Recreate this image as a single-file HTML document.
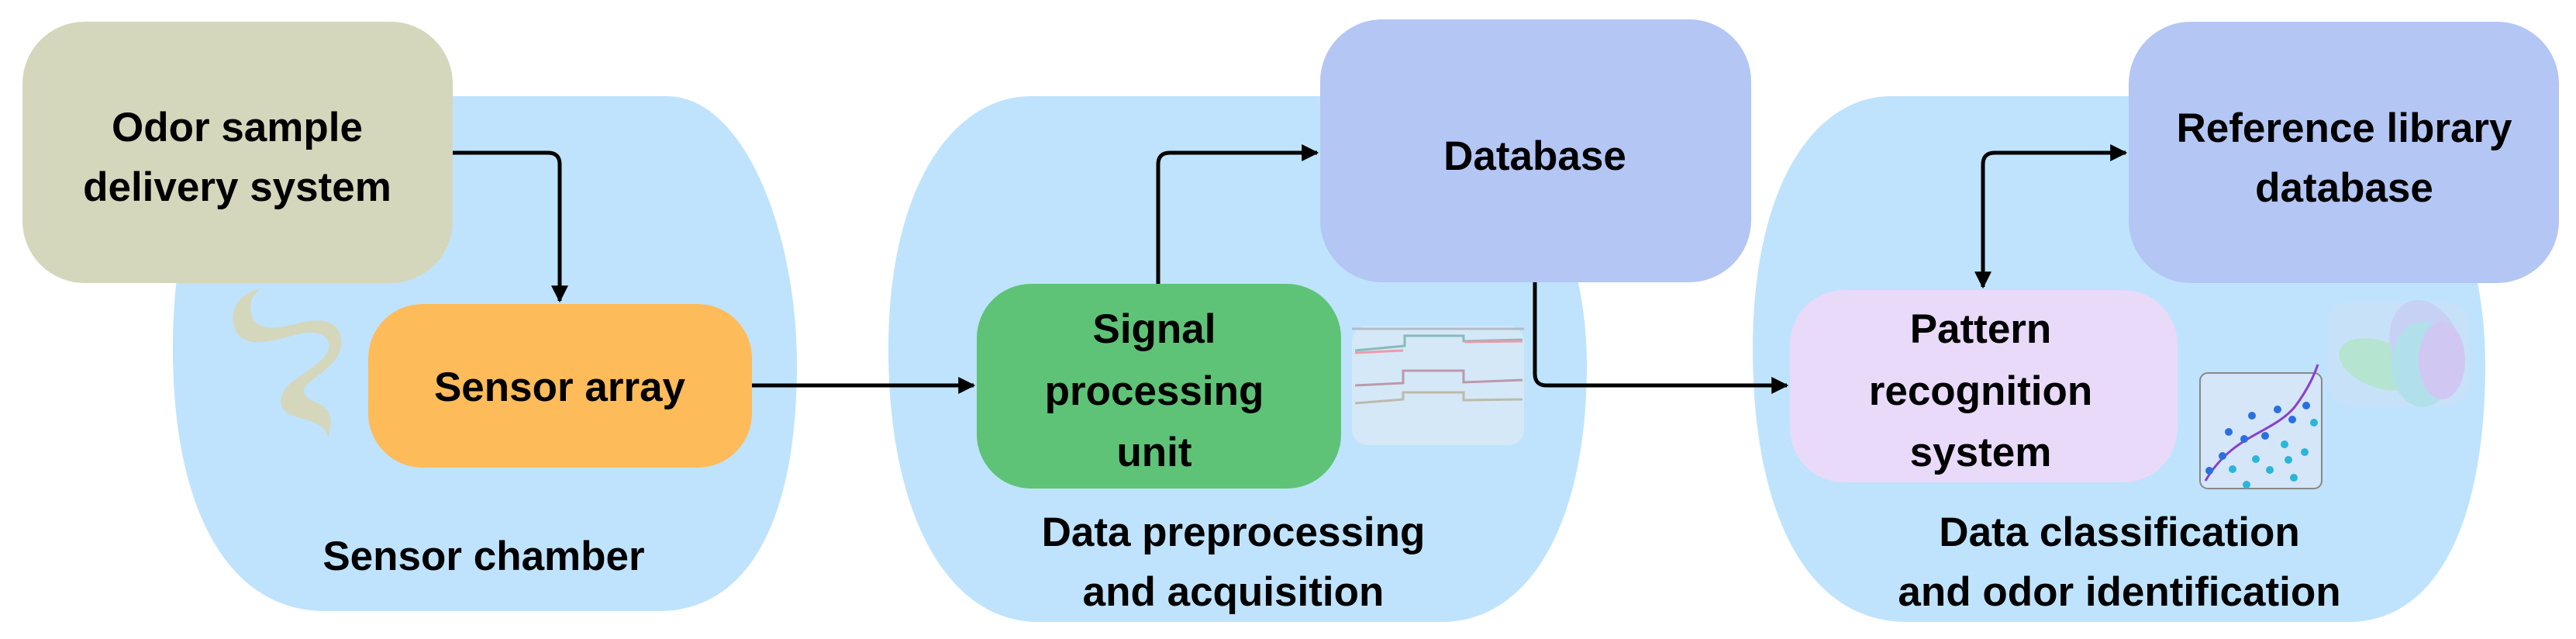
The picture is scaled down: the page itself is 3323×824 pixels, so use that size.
<!DOCTYPE html>
<html><head><meta charset="utf-8"><style>
html,body{margin:0;padding:0;background:#fff;}
svg{display:block;}
text{font-family:"Liberation Sans",sans-serif;font-weight:bold;font-size:53px;fill:#000;text-anchor:middle;}
</style></head><body>
<svg width="3323" height="824" viewBox="0 0 3323 824" xmlns="http://www.w3.org/2000/svg">
<defs>
<marker id="a" viewBox="0 0 10 10" refX="9" refY="5" markerWidth="22" markerHeight="22" markerUnits="userSpaceOnUse" orient="auto-start-reverse"><path d="M0,0 L10,5 L0,10 z" fill="#000"/></marker>
</defs>
<!-- chambers -->
<path d="M223,450 C223,230 300,124 420,124 L860,124 C960,124 1028,300 1028,470 C1028,680 960,788 850,788 L420,788 C290,788 223,650 223,450 Z" fill="#bfe3fc"/>
<path d="M1146,450 C1146,240 1230,124 1330,124 L1830,124 C1960,124 2047,300 2047,470 C2047,680 1970,802 1860,802 L1340,802 C1220,802 1146,660 1146,450 Z" fill="#bfe3fc"/>
<path d="M2261,450 C2261,240 2340,124 2440,124 L2980,124 C3130,124 3206,300 3206,470 C3206,680 3140,802 3030,802 L2460,802 C2330,802 2261,660 2261,450 Z" fill="#bfe3fc"/>
<!-- boxes -->
<rect x="29" y="28" width="555" height="337" rx="80" fill="#d4d7bc"/>
<rect x="475" y="392" width="495" height="211" rx="70" fill="#fdbb5a"/>
<rect x="1260" y="366" width="470" height="264" rx="70" fill="#5ec377"/>
<rect x="1703" y="25" width="556" height="339" rx="80" fill="#b4c6f4"/>
<rect x="2746" y="28" width="555" height="337" rx="80" fill="#b4c6f4"/>
<rect x="2309" y="374" width="500" height="248" rx="70" fill="#e8daf8"/>
<!-- smoke -->
<path d="M337,372 C305,378 293,405 305,428 C318,450 350,440 380,432 C400,426 420,428 424,442 C428,460 400,475 380,490 C360,505 355,525 375,535 C395,542 420,545 424,565 C428,545 430,528 410,520 C392,512 385,505 400,492 C420,478 445,460 440,435 C435,410 405,410 380,418 C355,425 330,425 325,408 C320,392 325,380 337,372 Z" fill="#d4d7bc"/>
<!-- chart -->
<rect x="1744" y="420" width="222" height="154" rx="20" fill="#dbe9f5" opacity="0.8"/>
<line x1="1744" y1="424" x2="1966" y2="424" stroke="#b0bcc8" stroke-width="3"/>
<path d="M1748,452 L1812,446 L1812,433 L1888,433 L1888,440 L1964,438" stroke="#8bb" stroke-width="3" fill="none"/>
<path d="M1748,455 L1810,452 M1890,441 L1964,440" stroke="#e9a" stroke-width="3" fill="none"/>
<path d="M1748,497 L1810,494 L1810,478 L1888,478 L1888,493 L1964,490" stroke="#b9a" stroke-width="3" fill="none"/>
<path d="M1748,520 L1810,515 L1810,506 L1888,506 L1888,516 L1964,515" stroke="#bba" stroke-width="3" fill="none"/>
<!-- scatter -->
<rect x="2838" y="481" width="157" height="149" rx="10" fill="#d4e6f7" stroke="#888" stroke-width="2"/>
<path d="M2845,620 C2880,560 2930,560 2960,525 C2975,505 2985,485 2990,470" stroke="#8a3fd0" stroke-width="3" fill="none"/>
<g fill="#2a6fe0"><circle cx="2905" cy="536" r="5"/><circle cx="2938" cy="528" r="5"/><circle cx="2957" cy="541" r="5"/><circle cx="2875" cy="557" r="5"/><circle cx="2895" cy="566" r="5"/><circle cx="2922" cy="562" r="5"/><circle cx="2867" cy="588" r="5"/><circle cx="2850" cy="607" r="5"/><circle cx="2975" cy="523" r="5"/></g>
<g fill="#2bb5d8"><circle cx="2985" cy="545" r="5"/><circle cx="2947" cy="573" r="5"/><circle cx="2973" cy="583" r="5"/><circle cx="2910" cy="592" r="5"/><circle cx="2880" cy="605" r="5"/><circle cx="2928" cy="606" r="5"/><circle cx="2952" cy="593" r="5"/><circle cx="2959" cy="616" r="5"/><circle cx="2898" cy="625" r="5"/></g>
<!-- ellipses -->
<rect x="3002" y="389" width="183" height="135" rx="30" fill="#cfe2f3" opacity="0.5"/>
<g opacity="0.55"><ellipse cx="3070" cy="470" rx="55" ry="30" fill="#a8e6b0" transform="rotate(20 3070 470)"/><ellipse cx="3130" cy="450" rx="45" ry="65" fill="#c8c4f0" transform="rotate(-20 3130 450)"/><ellipse cx="3125" cy="470" rx="40" ry="55" fill="#a0e0e0"/><ellipse cx="3150" cy="465" rx="30" ry="50" fill="#d8b4ef"/></g>
<!-- connectors -->
<g stroke="#000" stroke-width="5" fill="none">
<path d="M584,197 L707,197 Q722,197 722,212 L722,388" marker-end="url(#a)"/>
<path d="M970,497 L1256,497" marker-end="url(#a)"/>
<path d="M1494,366 L1494,212 Q1494,197 1509,197 L1699,197" marker-end="url(#a)"/>
<path d="M1980,364 L1980,482 Q1980,497 1995,497 L2305,497" marker-end="url(#a)"/>
<path d="M2558,370 L2558,212 Q2558,197 2573,197 L2742,197" marker-start="url(#a)" marker-end="url(#a)"/>
</g>
<!-- labels -->
<text x="306" y="182">Odor sample</text>
<text x="306" y="259">delivery system</text>
<text x="722" y="517">Sensor array</text>
<text x="624" y="735">Sensor chamber</text>
<text x="1489" y="442">Signal</text>
<text x="1489" y="522">processing</text>
<text x="1489" y="601">unit</text>
<text x="1980" y="219">Database</text>
<text x="1591" y="704">Data preprocessing</text>
<text x="1591" y="781">and acquisition</text>
<text x="3024" y="183">Reference library</text>
<text x="3024" y="260">database</text>
<text x="2555" y="442">Pattern</text>
<text x="2555" y="522">recognition</text>
<text x="2555" y="601">system</text>
<text x="2734" y="704">Data classification</text>
<text x="2734" y="781">and odor identification</text>
</svg>
</body></html>
